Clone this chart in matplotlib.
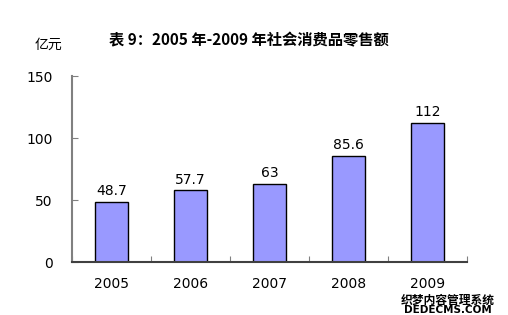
import matplotlib
matplotlib.use('Agg')
import matplotlib.pyplot as plt
import numpy as np

# Datos
anios = ['2005', '2006', '2007', '2008', '2009']
ventas = [48.7, 57.7, 63, 85.6, 112]
etiquetas = ['48.7', '57.7', '63', '85.6', '112']
y_ticks = [0, 50, 100, 150]

plt.rcParams['font.family'] = ['DejaVu Sans', 'Noto Sans CJK SC']

fig = plt.figure(figsize=(5.08, 3.15), dpi=100)
ax = fig.add_axes([72/508, 1 - 262/315, 395/508, (262 - 76)/315])

x = np.arange(len(anios))
ax.bar(x, ventas, width=0.42, color='#9999FF', edgecolor='black', linewidth=1)

for xi, v, t in zip(x, ventas, etiquetas):
    ax.text(xi, v + 3, t, ha='center', va='bottom', fontsize=10)

ax.set_xlim(-0.5, len(anios) - 0.5)
ax.set_ylim(0, 150)
ax.set_yticks(y_ticks)
ax.set_yticklabels([str(t) for t in y_ticks], fontsize=10)
ax.tick_params(axis='y', direction='in', length=4, color='#808080', pad=14)

# Marcas del eje x entre categorías
ax.set_xticks(np.arange(len(anios) + 1) - 0.5, minor=False)
ax.set_xticklabels([''] * (len(anios) + 1))
ax.tick_params(axis='x', direction='in', length=4, color='#808080')
for xi, a in zip(x, anios):
    ax.text(xi, -18, a, ha='center', va='center', fontsize=10)

for s in ['top', 'right']:
    ax.spines[s].set_visible(False)
ax.spines['left'].set_color('#808080')
ax.spines['left'].set_linewidth(1.5)
ax.spines['bottom'].set_color('#404040')
ax.spines['bottom'].set_linewidth(1.5)

fig.text(48/508, 1 - 45/315, '亿元', family=['Noto Sans CJK SC'], fontsize=10,
         ha='center', va='center')
fig.text(249/508, 1 - 40/315, '表 9：2005 年-2009 年社会消费品零售额',
         family=['Noto Sans CJK SC'], fontsize=11, fontweight='bold',
         ha='center', va='center')

# Marca de agua
fig.text(448/508, 1 - 300/315, '织梦内容管理系统', family=['Noto Sans CJK SC'],
         fontsize=8.5, fontweight='bold', ha='center', va='center')
fig.text(448/508, 1 - 310/315, 'DEDECMS.COM', fontsize=7.5, fontweight='bold',
         ha='center', va='center')

fig.savefig('out.png', dpi=100)
